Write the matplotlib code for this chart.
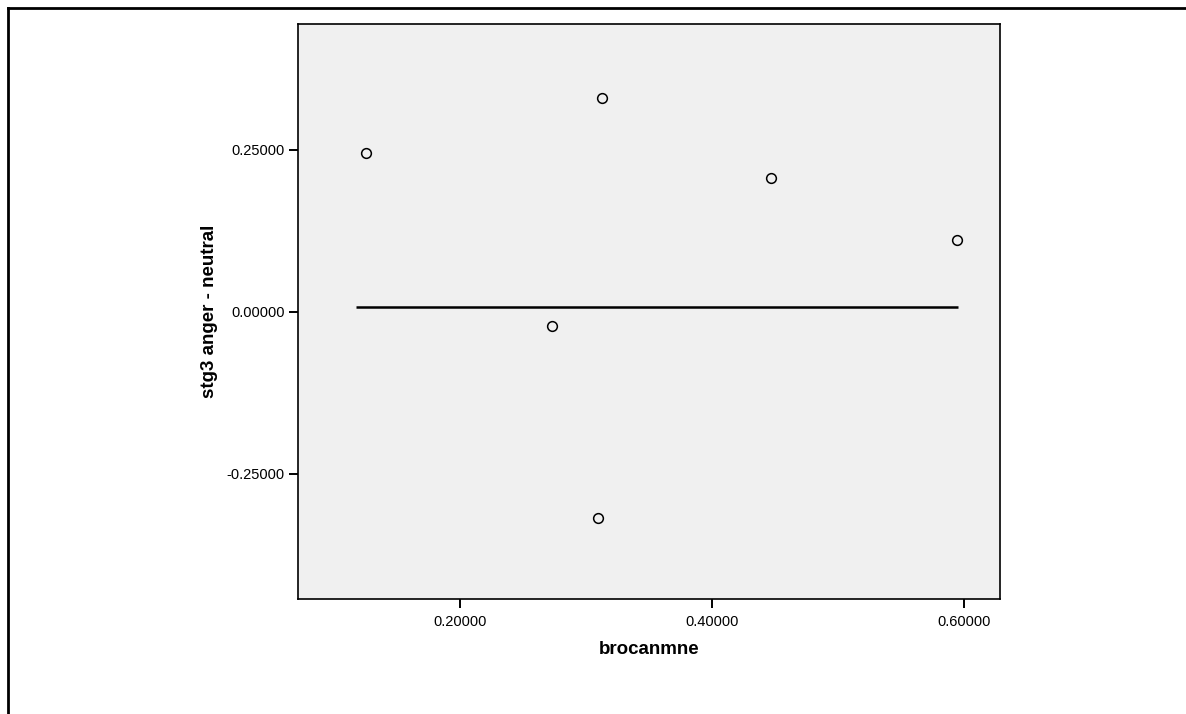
import matplotlib
matplotlib.use("Agg")
import matplotlib.pyplot as plt
from matplotlib.lines import Line2D

plt.rcParams['font.family'] = ['Liberation Sans', 'DejaVu Sans']

# data
brocanmne = [0.1254, 0.3127, 0.4468, 0.5944, 0.2730, 0.3095]
stg3_anger_neutral = [0.2454, 0.3300, 0.2068, 0.1110, -0.0216, -0.3180]

# fit line (flat), ends as drawn
fit_x = [0.1175, 0.5952]
fit_y = [0.0077, 0.0077]

xticks = [0.2, 0.4, 0.6]
yticks = [-0.25, 0.0, 0.25]

fig = plt.figure(figsize=(11.86, 7.14), dpi=100)
ax = fig.add_axes([0.2513, 0.1611, 0.5919, 0.8053])
ax.set_facecolor('#f0f0f0')

ax.plot(fit_x, fit_y, color='black', lw=1.8, solid_capstyle='butt', zorder=2)
ax.plot(brocanmne, stg3_anger_neutral, 'o', ms=7, mfc='none', mec='black',
        mew=1.1, zorder=3)

ax.set_xlim(0.0714, 0.6286)
ax.set_ylim(-0.4429, 0.4444)
ax.set_xticks(xticks)
ax.set_yticks(yticks)
ax.set_xticklabels(['%.5f' % v for v in xticks])
ax.set_yticklabels(['%.5f' % v for v in yticks])
ax.tick_params(length=6.5, width=1.4, labelsize=10.5, color='black')
ax.tick_params(axis='x', pad=5)
ax.tick_params(axis='y', pad=3)

for s in ax.spines.values():
    s.set_linewidth(1.2)
    s.set_color('black')

ax.set_xlabel('brocanmne', fontsize=13.5, fontweight='bold', labelpad=9)
ax.set_ylabel('stg3 anger - neutral', fontsize=13.5, fontweight='bold', labelpad=6)

# outer frame (only top and left visible)
fx = 7.5 / 1186
fy = 1 - 7.5 / 714
fig.add_artist(Line2D([fx, fx], [0, fy], transform=fig.transFigure, color='black', lw=2))
fig.add_artist(Line2D([fx, 1], [fy, fy], transform=fig.transFigure, color='black', lw=2))

fig.savefig('out.png', dpi=100)
